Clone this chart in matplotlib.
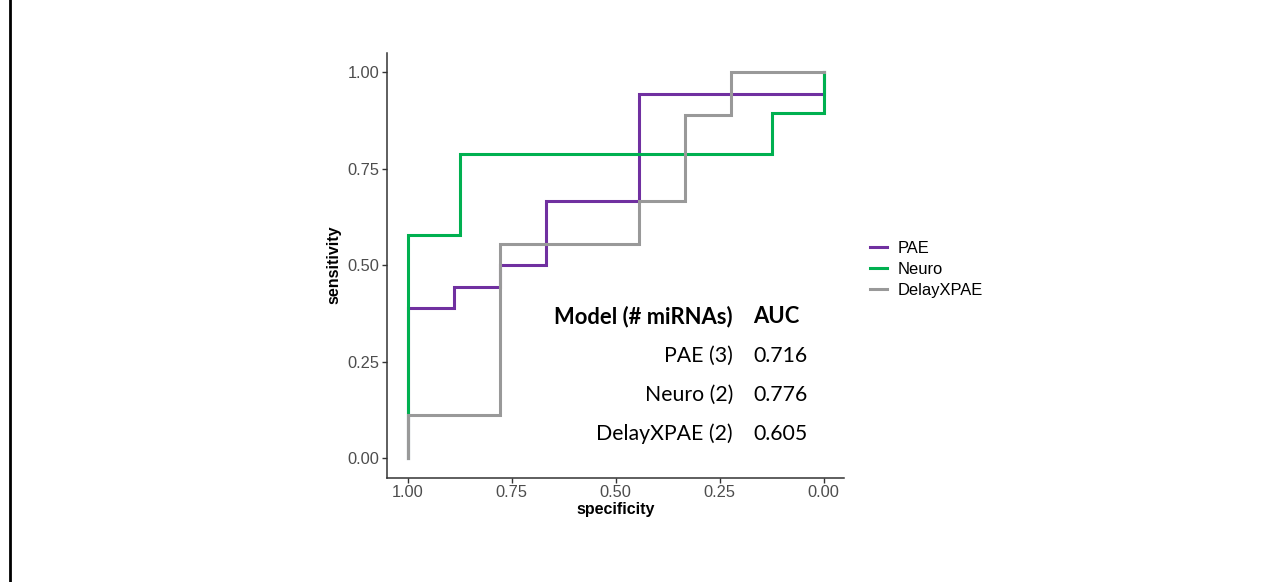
import matplotlib
matplotlib.use("Agg")
import matplotlib.pyplot as plt
from matplotlib.lines import Line2D

# ROC curve vertices (specificity, sensitivity)
pae_spec = [1.0, 1.0, 0.889, 0.889, 0.778, 0.778, 0.667, 0.667, 0.444, 0.444, 0.0, 0.0]
pae_sens = [0.0, 0.389, 0.389, 0.444, 0.444, 0.5, 0.5, 0.667, 0.667, 0.944, 0.944, 1.0]

neuro_spec = [1.0, 1.0, 0.875, 0.875, 0.125, 0.125, 0.0, 0.0]
neuro_sens = [0.0, 0.579, 0.579, 0.789, 0.789, 0.895, 0.895, 1.0]

delay_spec = [1.0, 1.0, 0.778, 0.778, 0.444, 0.444, 0.333, 0.333, 0.222, 0.222, 0.0]
delay_sens = [0.0, 0.111, 0.111, 0.556, 0.556, 0.667, 0.667, 0.889, 0.889, 1.0, 1.0]

series_names = ["PAE", "Neuro", "DelayXPAE"]
series_colors = ["#7030A0", "#00B050", "#999999"]

# AUC table shown inside the plot
table_models = ["PAE (3)", "Neuro (2)", "DelayXPAE (2)"]
table_auc = ["0.716", "0.776", "0.605"]

ticks = [0.0, 0.25, 0.5, 0.75, 1.0]
tick_labels = ["0.00", "0.25", "0.50", "0.75", "1.00"]

W, H = 1285, 582
fig = plt.figure(figsize=(W / 100, H / 100), dpi=100)
ax = fig.add_axes([386.7 / W, 1 - 477.7 / H, (844.3 - 386.7) / W, (477.7 - 52.7) / H])

curves = [(pae_spec, pae_sens), (neuro_spec, neuro_sens), (delay_spec, delay_sens)]
for (sx, sy), name, col in zip(curves, series_names, series_colors):
    ax.plot(sx, sy, color=col, lw=2.2, label=name, solid_joinstyle="miter")

ax.set_xlim(1.05, -0.05)
ax.set_ylim(-0.05, 1.05)
ax.set_xticks(ticks)
ax.set_xticklabels(tick_labels)
ax.set_yticks(ticks)
ax.set_yticklabels(tick_labels)

for side in ["top", "right"]:
    ax.spines[side].set_visible(False)
for side in ["left", "bottom"]:
    ax.spines[side].set_color("#333333")
    ax.spines[side].set_linewidth(1.1)
ax.tick_params(length=3.5, width=1.0, color="#333333", labelcolor="#4D4D4D",
               labelsize=11.8, pad=2)
for lab in ax.get_xticklabels() + ax.get_yticklabels():
    lab.set_fontfamily("Liberation Sans")

ax.set_xlabel("specificity", fontsize=11.5, fontweight="bold",
              family="Liberation Sans", labelpad=1)
ax.set_ylabel("sensitivity", fontsize=11.5, fontweight="bold",
              family="Liberation Sans", labelpad=4)

# legend to the right of the panel
fig.legend(loc="center left", bbox_to_anchor=(870 / W, 1 - 269.5 / H),
           frameon=False, prop={"family": "Liberation Sans", "size": 11.9},
           handlelength=1.05, handletextpad=0.6, labelspacing=0.38,
           borderpad=0, borderaxespad=0)

# AUC table
col1_x = 733 / W
col2_x = 753 / W
header_y = 323.3
row_gap = 38.9
fig.text(col1_x, 1 - header_y / H, "Model (# miRNAs)", ha="right", va="baseline",
         family="Lato", fontweight="bold", fontsize=15.8)
fig.text(col2_x, 1 - header_y / H, "AUC", ha="left", va="baseline",
         family="Lato", fontweight="bold", fontsize=15.8)
for i, (m, a) in enumerate(zip(table_models, table_auc)):
    y = 1 - (header_y + row_gap * (i + 1)) / H
    fig.text(col1_x, y, m, ha="right", va="baseline", family="Lato", fontsize=15.3)
    fig.text(col2_x, y, a, ha="left", va="baseline", family="Lato", fontsize=15.3)

# slide frame line on the left edge
fig.add_artist(Line2D([9.5 / W, 9.5 / W], [0, 1], transform=fig.transFigure,
                      color="black", lw=2))

fig.savefig("out.png", dpi=100)
